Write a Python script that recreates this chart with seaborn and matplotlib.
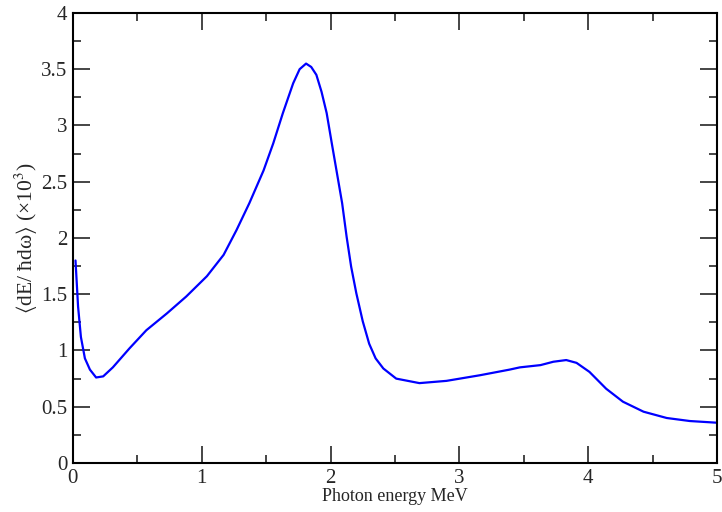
import numpy as np
import pandas as pd
import matplotlib.pyplot as plt
import seaborn as sns

# Values
energy = [0.02, 0.04, 0.062, 0.093, 0.132, 0.18, 0.235, 0.31, 0.44, 0.57,
          0.73, 0.88, 1.04, 1.17, 1.27, 1.37, 1.48, 1.555, 1.63, 1.71, 1.76, 1.81,
          1.85, 1.89, 1.93, 1.97, 2.01, 2.05, 2.09, 2.125, 2.16, 2.20, 2.25, 2.30,
          2.35, 2.41, 2.51, 2.69, 2.90, 3.16, 3.39, 3.47, 3.63, 3.73, 3.83, 3.91,
          4.01, 4.14, 4.27, 4.43, 4.61, 4.79, 5.0]
dEdw = [1.80, 1.39, 1.12, 0.93, 0.83, 0.76, 0.77, 0.85, 1.02, 1.18,
        1.33, 1.48, 1.66, 1.85, 2.07, 2.31, 2.60, 2.84, 3.11, 3.375, 3.50, 3.55,
        3.52, 3.45, 3.30, 3.11, 2.84, 2.575, 2.31, 2.01, 1.745, 1.51, 1.26, 1.06,
        0.93, 0.84, 0.75, 0.71, 0.73, 0.78, 0.83, 0.85, 0.87, 0.90, 0.915, 0.89,
        0.81, 0.66, 0.545, 0.456, 0.40, 0.373, 0.358]

df = pd.DataFrame({"E": energy, "val": dEdw})

sns.set_style("ticks")
plt.rcParams["font.family"] = ["Liberation Serif", "DejaVu Serif"]
plt.rcParams["mathtext.fontset"] = "stix"

fig = plt.figure(figsize=(7.22, 5.12), dpi=100)
ax = fig.add_axes([0.101, 0.0957, 0.892, 0.879])
sns.lineplot(data=df, x="E", y="val", color="#0000ff", linewidth=1.6, ax=ax)

ax.set_xlim(0, 5)
ax.set_ylim(0, 4)
ax.set_xticks([0, 1, 2, 3, 4, 5])
ax.set_xticks([0.5, 1.5, 2.5, 3.5, 4.5], minor=True)
ax.set_yticks([0, 0.5, 1, 1.5, 2, 2.5, 3, 3.5, 4])
ax.set_yticklabels(["0", "0.5", "1", "1.5", "2", "2.5", "3", "3.5", "4"])
ax.set_yticks(np.arange(0.25, 4, 0.5), minor=True)
ax.tick_params(which="both", direction="in", top=True, right=True, labelsize=15,
               width=1.2, pad=4)
ax.tick_params(which="major", length=12)
ax.tick_params(which="minor", length=6)
for s in ax.spines.values():
    s.set_linewidth(1.5)
    s.set_color("black")

ax.set_xlabel("Photon energy MeV", fontsize=13, labelpad=0)
ax.set_ylabel(r"$\langle$dE/ ħdω$\rangle$ (×10$^3$)", fontsize=15.5, labelpad=1)

fig.savefig("out.png", dpi=100)
